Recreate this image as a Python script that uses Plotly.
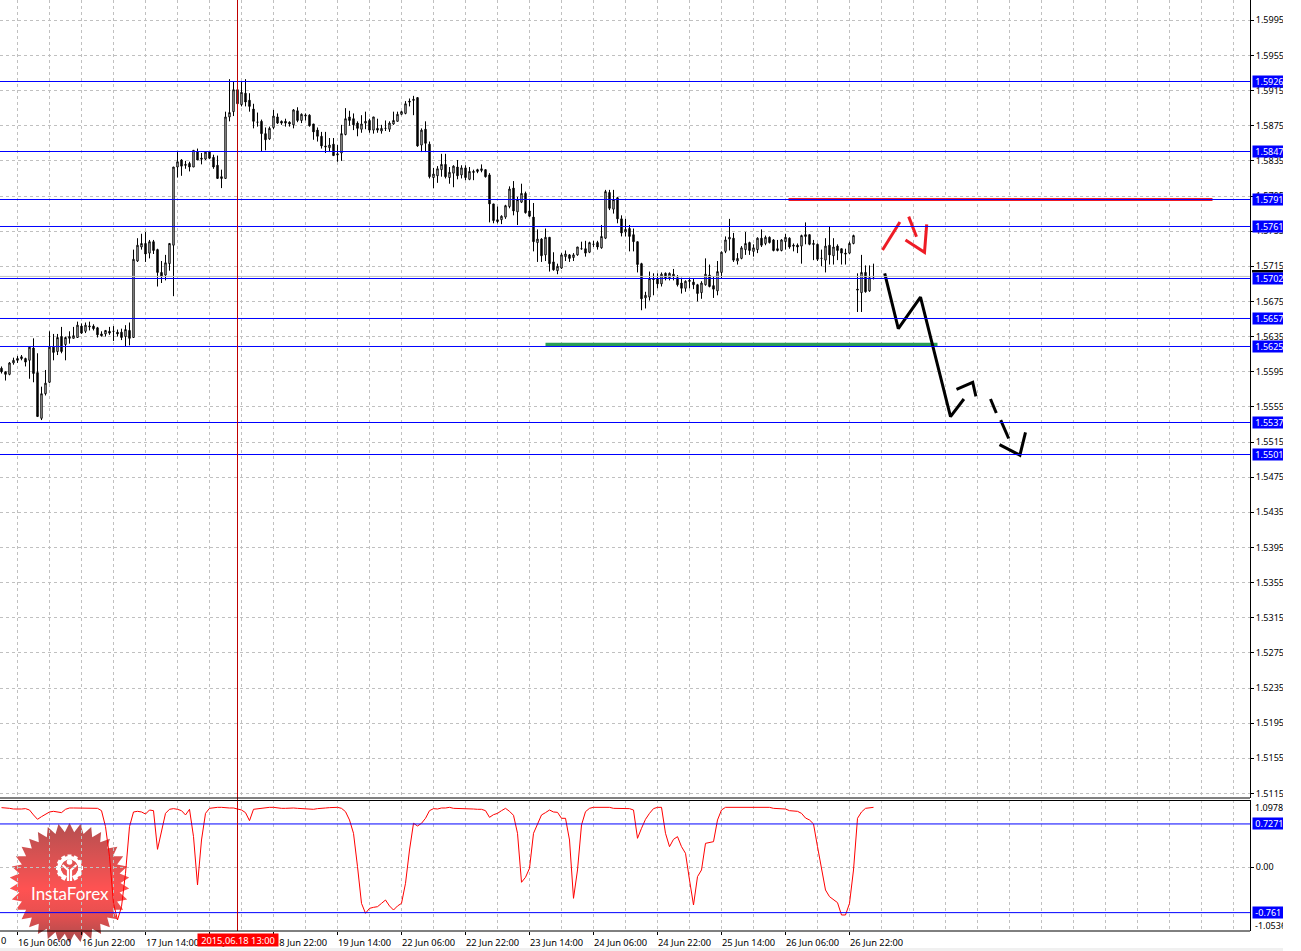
import base64
import math
import plotly.graph_objects as go

FIG_W, FIG_H = 1283, 951
PLOT_W = 1250

# Hourly bars, values in points above 1.5000
opens = [599,595,592,605,610,612,610,608,622,594,542,570,583,623,618,635,626,633,633,634,
647,641,646,647,645,638,638,641,641,640,640,635,642,634,721,737,741,730,743,734,
708,705,718,739,828,836,831,832,828,845,838,837,845,839,830,817,815,885,891,916,
899,912,904,894,879,880,866,860,873,885,880,880,879,876,892,881,886,887,877,870,
863,852,850,854,843,844,865,885,883,878,871,878,881,870,872,869,872,871,877,880,
888,889,903,905,907,853,871,854,816,818,825,831,816,821,828,819,827,814,823,825,
824,825,819,786,768,768,771,783,804,777,788,798,778,771,742,746,728,748,720,710,
713,726,728,725,728,735,735,731,740,742,736,747,799,780,793,769,754,758,751,743,
718,679,680,701,701,695,707,702,706,702,696,690,699,697,694,685,694,705,693,687,
708,732,746,747,721,724,734,742,732,734,747,741,748,745,735,733,743,747,739,739,
738,751,751,741,740,724,722,739,727,738,735,730,730,741,689,685,708,687,703]
highs = [601,595,606,611,613,614,611,624,633,616,578,597,641,638,638,646,635,641,646,652,
650,651,652,649,646,641,642,646,647,643,644,648,651,734,747,752,754,745,745,735,
721,728,741,828,845,837,835,834,847,849,844,845,845,842,841,825,891,928,925,925,
925,928,912,900,890,882,873,874,893,889,881,883,880,894,896,889,889,888,877,873,
868,868,861,861,853,876,895,892,889,880,887,891,883,885,883,876,881,880,891,891,
892,903,906,909,907,872,880,857,827,829,843,843,828,830,836,830,830,828,825,826,
831,825,821,786,783,773,785,806,812,794,809,800,791,787,757,747,758,748,731,718,
730,733,729,730,737,743,744,743,744,744,762,802,802,802,794,773,769,762,758,743,
719,686,709,707,707,708,708,708,712,705,702,699,702,701,695,698,724,717,703,721,
732,749,769,753,730,738,754,743,740,748,757,750,749,746,745,746,752,748,741,741,
751,765,751,745,741,734,747,760,747,740,735,735,743,751,707,728,716,716,718]
lows = [593,585,591,603,605,608,601,587,583,544,540,568,582,608,614,616,608,627,633,634,
638,639,642,642,634,635,635,637,630,635,631,624,625,634,720,734,720,724,729,692,
696,699,710,681,816,818,826,823,828,836,831,836,837,826,815,804,815,880,886,899,
897,897,891,872,874,846,847,859,871,877,876,874,874,872,879,878,881,874,859,857,
849,844,845,841,834,835,864,875,870,863,867,871,867,866,867,866,869,868,876,880,
887,888,897,887,851,845,845,815,804,810,817,815,809,805,814,815,813,813,813,821,
822,816,765,764,764,763,769,781,773,762,787,775,771,732,720,720,721,709,710,706,
712,721,720,721,727,734,726,730,737,734,735,746,779,775,764,749,749,732,732,708,
665,667,676,682,690,692,699,699,699,692,684,686,690,689,675,678,693,691,679,682,
701,730,733,720,717,723,728,728,726,730,737,739,741,732,732,732,734,735,732,730,
718,740,739,722,721,715,708,717,717,722,717,717,729,740,663,663,685,686,700]
closes = [595,592,605,608,608,610,606,623,593,544,570,582,623,617,634,618,634,635,636,648,
639,648,647,644,637,636,642,639,641,638,634,643,633,723,739,741,729,743,733,708,
703,719,741,828,834,829,830,828,847,836,837,845,838,828,815,815,885,890,916,900,
913,902,897,880,879,866,859,872,886,878,878,878,877,893,881,888,887,875,868,863,
852,851,853,841,842,866,883,881,876,872,877,880,870,885,870,872,872,878,881,888,
891,900,902,904,852,870,855,817,820,826,831,817,822,829,818,827,816,823,822,823,
826,817,786,767,766,772,784,803,778,791,798,776,772,743,746,727,748,718,711,715,
728,729,724,728,737,735,730,742,740,737,749,800,781,791,769,753,757,749,743,717,
678,682,701,700,695,706,702,707,703,694,690,698,698,694,684,696,706,692,689,709,
731,745,748,722,724,736,741,733,736,747,739,748,742,733,733,745,748,737,738,737,
750,749,740,740,723,724,738,728,737,733,730,729,741,750,688,708,686,702,703]

# Oscillator pane
oscillator = [1.001,1.001,0.989,0.978,0.973,0.978,0.984,0.961,0.878,0.805,0.850,0.894,0.928,0.939,0.922,0.917,0.973,0.995,0.995,0.995,
0.995,0.995,0.995,0.995,0.989,0.950,0.682,0.178,-0.605,-0.884,-0.661,-0.101,0.682,0.928,0.939,0.928,0.894,0.961,0.950,0.301,
0.626,0.905,0.973,0.984,0.973,0.950,0.878,0.973,0.514,-0.297,0.458,0.905,0.989,1.001,1.006,1.006,0.995,0.995,0.995,0.984,
0.961,0.917,0.782,0.973,0.984,0.995,1.001,1.006,1.006,0.995,0.989,0.989,0.995,0.995,0.989,0.984,0.973,0.973,0.973,0.984,
0.984,0.995,1.001,1.001,1.006,0.989,0.933,0.794,0.570,0.011,-0.605,-0.772,-0.689,-0.672,-0.661,-0.605,-0.549,-0.649,-0.717,-0.649,
-0.605,-0.269,0.290,0.738,0.693,0.738,0.822,0.950,0.984,0.978,0.995,0.995,1.006,0.989,0.989,0.989,0.989,0.989,0.978,0.973,
0.973,0.950,0.838,0.883,0.905,0.950,0.989,0.939,0.872,0.570,-0.252,-0.168,-0.017,0.570,0.738,0.878,0.917,0.961,0.928,0.922,
0.822,0.822,0.458,-0.521,-0.045,0.710,0.933,0.989,1.006,1.006,1.006,1.006,1.006,0.989,0.989,0.989,0.989,0.984,0.961,0.486,
0.654,0.805,0.905,0.984,1.006,1.006,0.570,0.346,0.469,0.514,0.346,0.234,-0.213,-0.633,-0.157,-0.045,0.402,0.413,0.430,0.794,
0.961,1.006,1.006,1.006,1.006,1.006,1.006,1.006,1.006,1.006,1.006,0.995,1.006,0.989,0.989,0.984,0.978,0.950,0.939,0.939,
0.905,0.827,0.794,0.727,0.346,-0.045,-0.381,-0.493,-0.538,-0.593,-0.800,-0.800,-0.605,-0.045,0.822,0.928,0.989,0.995,1.006]

# Horizontal levels (line value, printed label)
level_values = [1.592534, 1.584567, 1.579104, 1.576031, 1.570112, 1.56556, 1.562373, 1.553722, 1.55008]
level_labels = ["1.5926", "1.5847", "1.5791", "1.5761", "1.5702", "1.5657", "1.5625", "1.5537", "1.5501"]
bid_line = 1.57035
osc_levels = [0.7271, -0.761]
osc_level_labels = ["0.7271", "-0.761"]

price_ticks = [1.5995, 1.5955, 1.5915, 1.5875, 1.5835, 1.5795, 1.5755, 1.5715, 1.5675, 1.5635,
               1.5595, 1.5555, 1.5515, 1.5475, 1.5435, 1.5395, 1.5355, 1.5315, 1.5275, 1.5235,
               1.5195, 1.5155, 1.5115]
time_ticks = [4, 20, 36, 52, 68, 84, 100, 116, 132, 148, 164, 180, 196, 212]
time_labels = ["16 Jun 06:00", "16 Jun 22:00", "17 Jun 14:00", "18 Jun 06:00", "18 Jun 22:00",
               "19 Jun 14:00", "22 Jun 06:00", "22 Jun 22:00", "23 Jun 14:00", "24 Jun 06:00",
               "24 Jun 22:00", "25 Jun 14:00", "26 Jun 06:00", "26 Jun 22:00"]
grid_bars = list(range(4, 309, 8))
cursor_bar = 59
cursor_label = "2015.06.18 13:00"

# Hand drawn forecast strokes: bar positions and prices
black_strokes = [
    ([220.8, 224.2, 229.75, 237.25, 240.6], [1.5707, 1.5644, 1.5680, 1.5544, 1.5564]),
    ([238.75, 242.8, 243.6], [1.5575, 1.5583, 1.5567]),
    ([247.25, 248.7], [1.5564, 1.5548]),
    ([249.8, 251.8], [1.5540, 1.5519]),
    ([249.5, 254.6, 256.0], [1.5512, 1.5500, 1.5526]),
]
red_strokes = [
    ([220.25, 224.6], [1.57335, 1.57654]),
    ([226.8, 228.75], [1.57715, 1.57487]),
    ([226.0, 230.75, 231.3], [1.57449, 1.57309, 1.57627]),
]
red_bar = ([196.75, 302.75], [1.5791, 1.5791])
green_bar = ([136.0, 234.0], [1.5626, 1.5626])

to_price = lambda pts: [round(1.5 + v / 10000, 4) for v in pts]
bars = list(range(len(opens)))


def px_x(p):
    return p / FIG_W


def px_y(p):
    return 1 - p / FIG_H


y_top, y_bottom = 1.60181, 1.51104

fig = go.Figure()
fig.add_trace(go.Candlestick(
    x=bars, open=to_price(opens), high=to_price(highs), low=to_price(lows), close=to_price(closes),
    whiskerwidth=0, hoverinfo="skip", showlegend=False,
    increasing=dict(line=dict(color="#000000", width=1), fillcolor="#ffffff"),
    decreasing=dict(line=dict(color="#000000", width=1), fillcolor="#000000"),
    xaxis="x", yaxis="y"))
fig.add_trace(go.Scatter(x=bars, y=oscillator, mode="lines", line=dict(color="#ff0000", width=1),
                         hoverinfo="skip", showlegend=False, xaxis="x", yaxis="y2"))

shapes = []
shapes.append(dict(type="line", xref="x domain", yref="y", x0=0, x1=1, y0=bid_line, y1=bid_line,
                   line=dict(color="#c0c0c0", width=1)))
for v in level_values:
    shapes.append(dict(type="line", xref="x domain", yref="y", x0=0, x1=1, y0=v, y1=v,
                       line=dict(color="#0000ff", width=1)))
for v in osc_levels:
    shapes.append(dict(type="line", xref="x domain", yref="y2", x0=0, x1=1, y0=v, y1=v,
                       line=dict(color="#0000ff", width=1)))
# cursor
shapes.append(dict(type="line", xref="x", yref="paper", x0=cursor_bar, x1=cursor_bar,
                   y0=px_y(931), y1=1, line=dict(color="#c00000", width=1)))
# pane separators
for p in (798, 800.5, 931):
    shapes.append(dict(type="line", xref="paper", yref="paper", x0=0, x1=px_x(PLOT_W),
                       y0=px_y(p), y1=px_y(p), line=dict(color="#000000", width=1)))
# price tag peeking out above the 1.5702 label
shapes.append(dict(type="rect", xref="paper", yref="paper", x0=px_x(1252), x1=1, y0=px_y(272.5), y1=px_y(270),
                   line=dict(width=0), fillcolor="#000000"))
# bottom window strip
shapes.append(dict(type="rect", xref="paper", yref="paper", x0=0, x1=1, y0=0, y1=px_y(948),
                   line=dict(width=0), fillcolor="#f0f0f0"))

# thick drawn marks
fig.add_trace(go.Scatter(x=green_bar[0], y=green_bar[1], mode="lines", line=dict(color="#2a9d56", width=3.5),
                         hoverinfo="skip", showlegend=False))
fig.add_trace(go.Scatter(x=red_bar[0], y=red_bar[1], mode="lines", line=dict(color="#ee1c25", width=3),
                         hoverinfo="skip", showlegend=False))
for xs, ys in red_strokes:
    fig.add_trace(go.Scatter(x=xs, y=ys, mode="lines", line=dict(color="#ee1c25", width=3),
                             hoverinfo="skip", showlegend=False))
for xs, ys in black_strokes:
    fig.add_trace(go.Scatter(x=xs, y=ys, mode="lines", line=dict(color="#000000", width=3),
                             hoverinfo="skip", showlegend=False))

LABEL_FONT = "Noto Sans"
annotations = []
for v, t in zip(level_values, level_labels):
    annotations.append(dict(xref="paper", yref="y", x=px_x(1252), y=v, xanchor="left", yanchor="middle",
                            text="&nbsp;" + t, showarrow=False, align="left", width=31, height=11, borderpad=0,
                            bgcolor="#0000ff", font=dict(family=LABEL_FONT, size=9, color="#ffffff")))
for v, t in zip(osc_levels, osc_level_labels):
    annotations.append(dict(xref="paper", yref="y2", x=px_x(1252), y=v, xanchor="left", yanchor="middle",
                            text="&nbsp;" + t, showarrow=False, align="left", width=31, height=11, borderpad=0,
                            bgcolor="#0000ff", font=dict(family=LABEL_FONT, size=9, color="#ffffff")))
for p, t in ((807.5, "1.0978"), (925.5, "-1.0536")):
    annotations.append(dict(xref="paper", yref="paper", x=px_x(1254), y=px_y(p), xanchor="left", yanchor="middle",
                            text=t, showarrow=False, borderpad=0,
                            font=dict(family=LABEL_FONT, size=9, color="#000000")))
annotations.append(dict(xref="paper", yref="paper", x=px_x(197), y=px_y(940), xanchor="left", yanchor="middle",
                        text=cursor_label, showarrow=False, width=80, height=12, borderpad=0, align="center",
                        bgcolor="#ff0000", font=dict(family=LABEL_FONT, size=9.3, color="#ffffff")))
annotations.append(dict(xref="paper", yref="paper", x=0, y=px_y(940), xanchor="left", yanchor="middle",
                        text="0", showarrow=False, borderpad=0,
                        font=dict(family=LABEL_FONT, size=9.3, color="#000000")))
annotations.append(dict(xref="paper", yref="paper", x=px_x(69.5), y=px_y(893), xanchor="center", yanchor="middle",
                        text="InstaForex", showarrow=False, borderpad=0,
                        font=dict(family="Lato", size=17, color="#ffffff")))

# Watermark badge
cx, cy, r_out, r_in, n = 62, 62, 60, 51, 34
pts = []
for k in range(2 * n):
    r = r_out if k % 2 == 0 else r_in
    a = math.pi * k / n - math.pi / 2
    pts.append(f"{cx + r * math.cos(a):.1f},{cy + r * math.sin(a):.1f}")
gear_cx, gear_cy = 62, 47
teeth = "".join(
    f'<rect x="{gear_cx - 2:.1f}" y="{gear_cy - 13.5:.1f}" width="4" height="5" fill="#fff" '
    f'transform="rotate({a} {gear_cx} {gear_cy})"/>'
    for a in (-150, -120, -90, -60, -30, 0, 30, 60, 90, 120, 150))
svg = f'''<svg xmlns="http://www.w3.org/2000/svg" width="124" height="124" viewBox="0 0 124 124">
<defs><linearGradient id="g" x1="0" y1="0" x2="0" y2="1">
<stop offset="0" stop-color="#b44f50"/><stop offset="0.28" stop-color="#d95252"/>
<stop offset="0.55" stop-color="#ff5252"/><stop offset="0.75" stop-color="#e85050"/>
<stop offset="1" stop-color="#a84a4c"/></linearGradient></defs>
<polygon points="{' '.join(pts)}" fill="url(#g)"/>
{teeth}
<path d="M{gear_cx - 4} {gear_cy + 10} A10.5 10.5 0 1 1 {gear_cx + 4} {gear_cy + 10}" fill="none" stroke="#fff" stroke-width="3.5"/>
<circle cx="{gear_cx}" cy="{gear_cy - 6}" r="2.8" fill="#fff"/>
<path d="M{gear_cx - 7} {gear_cy - 3} L{gear_cx - 1.5} {gear_cy + 2} V{gear_cy + 13} M{gear_cx + 7} {gear_cy - 3} L{gear_cx + 1.5} {gear_cy + 2} V{gear_cy + 13}" fill="none" stroke="#fff" stroke-width="2.2"/>
</svg>'''
badge = "data:image/svg+xml;base64," + base64.b64encode(svg.encode()).decode()

fig.update_layout(
    width=FIG_W, height=FIG_H, autosize=False,
    margin=dict(l=0, r=0, t=0, b=0, pad=0, autoexpand=False),
    paper_bgcolor="#ffffff", plot_bgcolor="rgba(0,0,0,0)",
    showlegend=False, hovermode=False, boxgap=0.5,
    font=dict(family=LABEL_FONT, size=9, color="#000000"),
    xaxis=dict(domain=[0, px_x(PLOT_W)], range=[-0.375, (PLOT_W - 1.5) / 4], anchor="y2",
               rangeslider=dict(visible=False),
               tickmode="array", tickvals=time_ticks, ticktext=time_labels,
               ticks="outside", ticklen=3, tickwidth=1, tickcolor="#000000",
               ticklabelshift=27, ticklabeloverflow="allow", tickangle=0,
               tickfont=dict(family=LABEL_FONT, size=9.3, color="#000000"),
               showgrid=False, zeroline=False, showline=False,
               minor=dict(tickmode="array", tickvals=grid_bars, ticks="", showgrid=True,
                          gridcolor="#c0c0c0", griddash="3px,3px", gridwidth=1)),
    yaxis=dict(domain=[px_y(797.5), 1], range=[y_bottom, y_top], side="right", anchor="x",
               tickmode="array", tickvals=price_ticks, ticktext=[f"{v:.4f}" for v in price_ticks],
               ticks="outside", ticklen=3, tickcolor="#000000",
               showgrid=True, gridcolor="#c0c0c0", griddash="3px,3px", gridwidth=1,
               zeroline=False, showline=True, linecolor="#000000", linewidth=1,
               tickfont=dict(family=LABEL_FONT, size=9, color="#000000")),
    yaxis2=dict(domain=[px_y(931), px_y(800)], range=[-1.069, 1.129], side="right", anchor="x",
                tickmode="array", tickvals=[0], ticktext=["0.00"],
                ticks="outside", ticklen=3, tickcolor="#000000",
                showgrid=True, gridcolor="#c0c0c0", griddash="3px,3px", gridwidth=1,
                zeroline=False, showline=True, linecolor="#000000", linewidth=1,
                tickfont=dict(family=LABEL_FONT, size=9, color="#000000")),
    shapes=shapes,
    annotations=annotations,
    images=[dict(source=badge, xref="paper", yref="paper", x=px_x(7.5), y=px_y(821),
                 sizex=124 / FIG_W, sizey=124 / FIG_H, xanchor="left", yanchor="top",
                 sizing="stretch", layer="below")],
)

fig.write_html("out.html", config=dict(displayModeBar=False),
               post_script="document.documentElement.style.overflow='hidden';document.body.style.margin='0';")
